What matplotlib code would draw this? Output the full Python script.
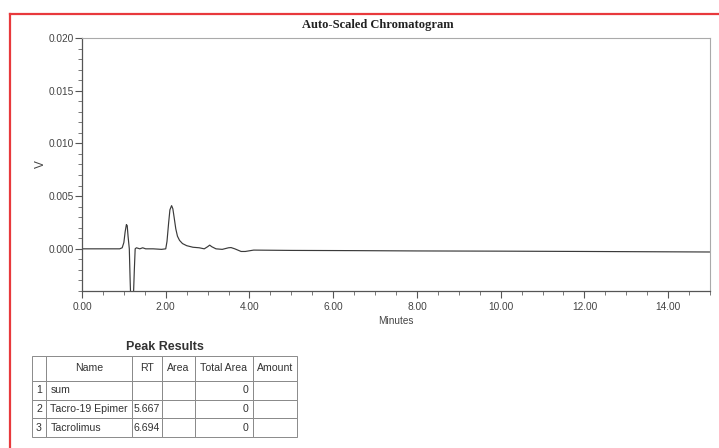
import matplotlib
matplotlib.use("Agg")
import matplotlib.pyplot as plt
from matplotlib.lines import Line2D
from matplotlib.table import Table
from matplotlib.ticker import MultipleLocator, FormatStrFormatter

# ---- data ----
times = [0.00, 0.50, 0.90, 0.96, 1.00, 1.03, 1.06, 1.08, 1.10, 1.13, 1.15, 1.17,
         1.22, 1.25, 1.27, 1.30, 1.38, 1.45, 1.52, 1.70, 1.90, 2.00, 2.03, 2.07,
         2.10, 2.14, 2.17, 2.20, 2.24, 2.28, 2.33, 2.40, 2.50, 2.65, 2.80, 2.92,
         3.00, 3.05, 3.10, 3.20, 3.35, 3.50, 3.56, 3.65, 3.80, 3.90, 4.10, 5.00,
         6.50, 8.00, 10.00, 12.00, 15.00]
volts = [0.0000, 0.0000, 0.0000, 0.0001, 0.0006, 0.0016, 0.0023, 0.0022, 0.0012,
         0.0000, -0.0030, -0.0055, -0.0055, -0.0020, 0.0000, 0.0001, 0.0000,
         0.0001, 0.0000, 0.0000, -0.00005, 0.0000, 0.0007, 0.0025, 0.0037,
         0.0041, 0.0038, 0.0030, 0.0019, 0.0012, 0.0008, 0.0005, 0.0003,
         0.00015, 0.0001, 0.0000, 0.0002, 0.00035, 0.0002, 0.0000, -0.00005,
         0.0001, 0.00012, 0.0000, -0.00025, -0.00025, -0.00012, -0.00015,
         -0.00017, -0.0002, -0.00022, -0.00025, -0.0003]

table_title = "Peak Results"
col_headers = ["", "Name", "RT", "Area", "Total Area", "Amount"]
row_index = ["1", "2", "3"]
peak_names = ["sum", "Tacro-19 Epimer", "Tacrolimus"]
peak_rt = ["", "5.667", "6.694"]
peak_area = ["", "", ""]
peak_total_area = ["0", "0", "0"]
peak_amount = ["", "", ""]

W, H = 719, 448
fig = plt.figure(figsize=(W / 100, H / 100), dpi=100)
fig.patch.set_facecolor("white")

sans = ["Liberation Sans", "DejaVu Sans"]
serif = ["Liberation Serif", "DejaVu Serif"]

# red frame
red = "#e8393c"
fig.add_artist(Line2D([10 / W, 10 / W], [0, 1 - 14 / H], transform=fig.transFigure,
                      color=red, lw=1.6))
fig.add_artist(Line2D([10 / W, 1], [1 - 14 / H, 1 - 14 / H], transform=fig.transFigure,
                      color=red, lw=1.6))

# main axes
ax_l, ax_r, ax_t, ax_b = 82, 710, 38, 291
ax = fig.add_axes([ax_l / W, 1 - ax_b / H, (ax_r - ax_l) / W, (ax_b - ax_t) / H])
ax.plot(times, volts, color="#3a3a3a", lw=0.85)
ax.set_xlim(0, 15)
ax.set_ylim(-0.004, 0.020)
ax.xaxis.set_major_locator(MultipleLocator(2))
ax.xaxis.set_minor_locator(MultipleLocator(0.5))
ax.yaxis.set_major_locator(MultipleLocator(0.005))
ax.yaxis.set_minor_locator(MultipleLocator(0.001))
ax.xaxis.set_major_formatter(FormatStrFormatter("%.2f"))
ax.yaxis.set_major_formatter(FormatStrFormatter("%.3f"))
ax.tick_params(which="major", direction="out", length=5, width=0.8, color="#555",
               labelsize=7.3, labelcolor="#444")
ax.tick_params(which="minor", direction="out", length=3, width=0.7, color="#777")
for lab in ax.get_xticklabels() + ax.get_yticklabels():
    lab.set_fontfamily(sans)
ax.tick_params(axis="x", pad=3)
ax.tick_params(axis="y", pad=1)
for s in ["left", "bottom"]:
    ax.spines[s].set_color("#555")
    ax.spines[s].set_linewidth(0.9)
for s in ["top", "right"]:
    ax.spines[s].set_color("#aaa")
    ax.spines[s].set_linewidth(0.8)

ax.set_xlabel("Minutes", fontsize=7.2, color="#444", family=sans, labelpad=3)
ax.set_ylabel("V", fontsize=8.5, color="#444", family=sans)
ax.yaxis.set_label_coords((47 - ax_l) / (ax_r - ax_l), 0.5)
fig.text(378 / W, 1 - 25 / H, "Auto-Scaled Chromatogram", ha="center", va="center",
         fontsize=9, fontweight="bold", family=serif, color="#222")

# table
tb_l, tb_r, tb_t, tb_b = 32, 297, 356, 437
tax = fig.add_axes([tb_l / W, 1 - tb_b / H, (tb_r - tb_l) / W, (tb_b - tb_t) / H])
tax.axis("off")
col_px = [14, 86, 30, 33, 58, 44]
tot = sum(col_px)
col_w = [c / tot for c in col_px]
hdr_h, row_h = 20, 15
tot_h = hdr_h + row_h * len(row_index)
tbl = Table(tax, bbox=[0, 0, 1, 1])
for j, txt in enumerate(col_headers):
    c = tbl.add_cell(0, j, col_w[j], hdr_h / tot_h, text=txt, loc="center")
rows = list(zip(row_index, peak_names, peak_rt, peak_area, peak_total_area, peak_amount))
locs = ["center", "left", "center", "center", "right", "center"]
for i, r in enumerate(rows, start=1):
    for j, txt in enumerate(r):
        c = tbl.add_cell(i, j, col_w[j], row_h / tot_h, text=txt, loc=locs[j])
        if j == 1:
            c.PAD = 0.05
        if j == 4:
            c.PAD = 0.08
tbl.auto_set_font_size(False)
for (i, j), c in tbl.get_celld().items():
    c.set_edgecolor("#8a8a8a")
    c.set_linewidth(0.7)
    c.get_text().set_fontsize(7.6)
    c.get_text().set_fontfamily(sans)
    c.get_text().set_color("#333")
tax.add_table(tbl)
fig.text(165 / W, 1 - 347 / H, table_title, ha="center", va="center", fontsize=9,
         fontweight="bold", family=sans, color="#333")

fig.savefig("out.png", dpi=100)
